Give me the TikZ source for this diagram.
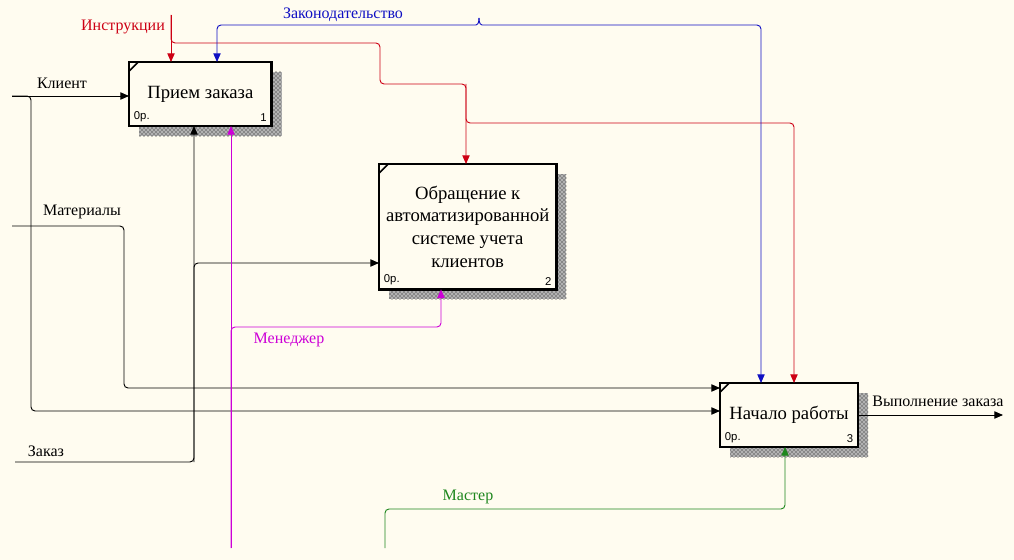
\documentclass[tikz,border=0pt]{standalone}
\usepackage{fontspec}
\setmainfont{Liberation Serif}
\newfontfamily\numfont{Liberation Sans}
\usetikzlibrary{arrows.meta,shadows,patterns}

\definecolor{paper}{RGB}{255,252,240}
\definecolor{ctrlred}{RGB}{205,0,20}
\definecolor{lawblue}{RGB}{15,15,195}
\definecolor{mgrpink}{RGB}{205,0,215}
\definecolor{mstgreen}{RGB}{30,135,30}

\tikzset{
  func/.style={draw, line width=2pt, fill=paper, align=center, anchor=north west,
    outer sep=0pt, inner sep=2pt, font=\fontsize{14}{17}\selectfont,
    general shadow={shadow xshift=7.5pt, shadow yshift=-7.5pt, fill=black!30,
      postaction={pattern=crosshatch dots, pattern color=black}}},
  arr/.style={-{Triangle[length=6.5pt,width=5.5pt]}, line width=0.7pt, rounded corners=3pt},
  lbl/.style={font=\fontsize{12}{14}\selectfont, inner sep=1pt},
  tag/.style={font=\numfont\fontsize{8.5}{9}\selectfont, inner sep=1pt}
}

\begin{document}
\begin{tikzpicture}[x=0.75pt, y=-0.75pt]
    \fill[paper] (0,0) rectangle (1014,560);
    \useasboundingbox (0,0) rectangle (1014,560);

    % functions
    \node[func, minimum width=107pt, minimum height=48pt] (A1) at (129,62) {Прием заказа};
    \node[func, minimum width=133pt, minimum height=94pt] (A2) at (379,164)
      {Обращение к\\автоматизированной\\системе учета\\клиентов};
    \node[func, minimum width=103.5pt, minimum height=48pt] (A3) at (720,383) {Начало работы};

    \foreach \b/\n in {A1/1, A2/2, A3/3} {
      \draw[line width=1.2pt] ([yshift=-7pt]\b.north west) -- ([xshift=7pt]\b.north west);
      \node[tag, anchor=south west] (\b o) at ([xshift=2.5pt, yshift=2pt]\b.south west) {0р.};
      \node[tag, anchor=south east] (\b n) at ([xshift=-2.5pt, yshift=2pt]\b.south east) {\n};
    }

    % inputs
    \coordinate (klIn) at (12,96);
    \coordinate (klSplit) at (31,96);
    \coordinate (klLow) at (31,411);
    \draw[arr] (klIn) -- (A1.west |- klIn);
    \draw[arr] (klIn) -- (klSplit) -- (klLow) -- (A3.west |- klLow);
    \node[lbl] (lKl) at (62,83) {Клиент};

    \coordinate (matIn) at (12,226);
    \coordinate (matBend) at (124,226);
    \coordinate (matLow) at (124,388);
    \draw[arr] (matIn) -- (matBend) -- (matLow) -- (A3.west |- matLow);
    \node[lbl] (lMat) at (82,212) {Материалы};

    \coordinate (zkIn) at (15,462);
    \coordinate (zkBend) at (194,462);
    \coordinate (zkSplit) at (194,263);
    \draw[arr] (zkIn) -- (zkBend) -- (A1.south -| zkBend);
    \draw[arr] (zkBend) -- (zkSplit) -- (A2.west |- zkSplit);
    \node[lbl] (lZk) at (46,451) {Заказ};

    % controls
    \coordinate (inIn) at (171,15);
    \coordinate (inSplit) at (171,43);
    \coordinate (inB1) at (380,43);
    \coordinate (inB2) at (380,84);
    \coordinate (inB3) at (466,84);
    \coordinate (inSplit2) at (466,123);
    \coordinate (inB4) at (794,123);
    \draw[arr, ctrlred] (inIn) -- (A1.north -| inIn);
    \draw[arr, ctrlred] (inIn) -- (inSplit) -- (inB1) -- (inB2) -- (inB3) -- (A2.north -| inB3);
    \draw[arr, ctrlred] (inB3) -- (inSplit2) -- (inB4) -- (A3.north -| inB4);
    \node[lbl, text=ctrlred] (lIn) at (123,27) {Инструкции};

    \coordinate (lwTip) at (479,18);
    \coordinate (lwL) at (217,25);
    \coordinate (lwR) at (761,25);
    \draw[arr, lawblue] (lwTip) .. controls (479,24) and (477,25) .. (472,25) -- (lwL) -- (A1.north -| lwL);
    \draw[arr, lawblue] (lwTip) .. controls (479,24) and (481,25) .. (486,25) -- (lwR) -- (A3.north -| lwR);
    \node[lbl, text=lawblue] (lLw) at (343,15) {Законодательство};

    % mechanisms
    \coordinate (mgIn) at (231,548);
    \coordinate (mgSplit) at (231,327);
    \coordinate (mgBend) at (441,327);
    \draw[arr, mgrpink] (mgIn) -- (A1.south -| mgIn);
    \draw[arr, mgrpink] (mgIn) -- (mgSplit) -- (mgBend) -- (A2.south -| mgBend);
    \node[lbl, text=mgrpink] (lMg) at (289,340) {Менеджер};

    \coordinate (msIn) at (385,548);
    \coordinate (msB1) at (385,509);
    \coordinate (msB2) at (785,509);
    \draw[arr, mstgreen] (msIn) -- (msB1) -- (msB2) -- (A3.south -| msB2);
    \node[lbl, text=mstgreen] (lMs) at (468,497) {Мастер};

    % output
    \coordinate (outEnd) at (1003,415);
    \draw[arr] (A3.east) -- (outEnd);
    \node[lbl] (lOut) at (938,401) {Выполнение заказа};
\end{tikzpicture}
\end{document}
